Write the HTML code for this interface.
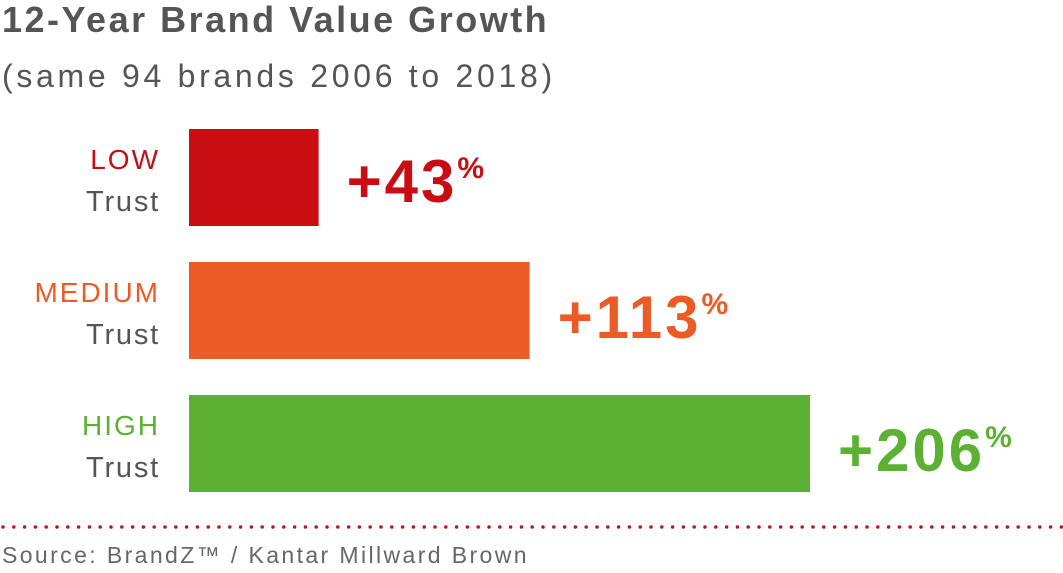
<!DOCTYPE html>
<html><head><meta charset="utf-8"><style>
body{margin:0;background:#fff;width:1063px;height:573px;overflow:hidden;font-family:"Liberation Sans",sans-serif;position:relative}
.t{position:absolute;white-space:nowrap}
</style></head><body>
<div class="t" style="left:2px;top:-1px;font-size:36px;font-weight:bold;color:#555;letter-spacing:2.5px">12-Year Brand Value Growth</div>
<div class="t" style="left:2px;top:58px;font-size:32px;color:#555;letter-spacing:3.7px">(same 94 brands 2006 to 2018)</div>
<svg id="chart" width="1063" height="573" style="position:absolute;left:0;top:0"></svg>
<div class="t" style="left:2px;top:542px;font-size:23px;color:#666;letter-spacing:2.4px">Source: BrandZ™ / Kantar Millward Brown</div>
<script>
const categories=["LOW","MEDIUM","HIGH"];
const values=[43,113,206];
const colors=["#c80d13","#ec5b25","#5cb133"];
const svg=document.getElementById('chart');
const NS="http://www.w3.org/2000/svg";
const x0=189, pxPer=621/206;
function xs(v){return x0+v*pxPer;}
function yTop(i){return 129+i*133;}
const bh=97;
function mk(tag,attrs){const e=document.createElementNS(NS,tag);for(const k in attrs)e.setAttribute(k,attrs[k]);svg.appendChild(e);return e;}
categories.forEach((c,i)=>{
  const y=yTop(i);
  const r=mk('rect',{x:x0,y:y,width:xs(values[i])-x0,height:bh,fill:colors[i]});
  
  
  const l=mk('text',{x:160,y:y+40,'text-anchor':'end','font-size':28,fill:colors[i],'font-family':'Liberation Sans, sans-serif','letter-spacing':'2'});
  l.textContent=c;
  
  
  const t=mk('text',{x:160,y:y+82,'text-anchor':'end','font-size':29,fill:'#555','font-family':'Liberation Sans, sans-serif','letter-spacing':'1.8'});
  t.textContent='Trust';
  
  
  const v=mk('text',{x:xs(values[i])+28,y:y+73+(i>0?3:0),'font-size':60,'font-weight':'bold',fill:colors[i],'font-family':'Liberation Sans, sans-serif','letter-spacing':'3'});
  v.textContent='+'+values[i];
  const s=document.createElementNS(NS,'tspan');s.setAttribute('font-size','30');s.setAttribute('dy','-24');s.textContent='%';v.appendChild(s);
  
  
});
const d=mk('line',{x1:3,y1:527,x2:1063,y2:527,stroke:'#c80d13','stroke-width':3.5,'stroke-dasharray':'0 10.8','stroke-linecap':'round'});


</script>
</body></html>
